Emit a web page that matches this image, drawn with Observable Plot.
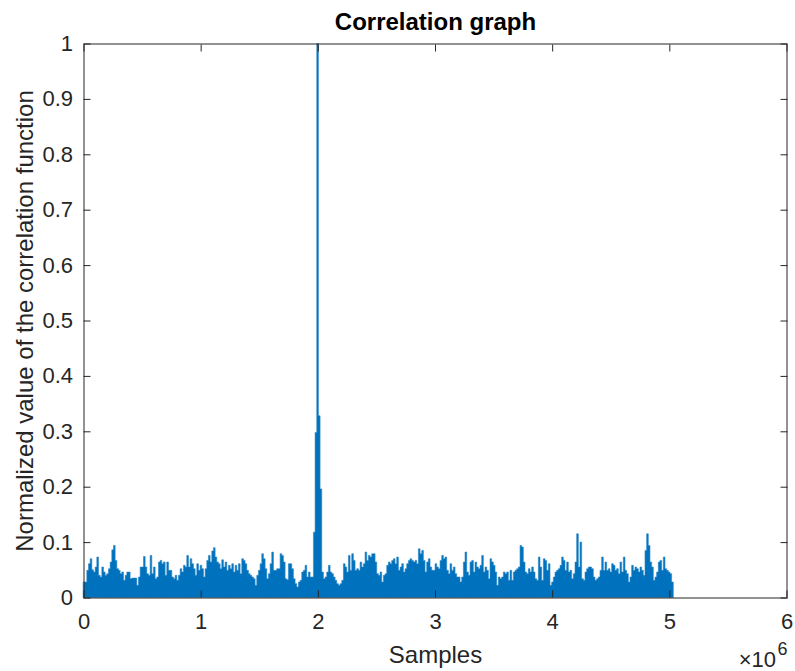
<!DOCTYPE html>
<html>
<head>
<meta charset="utf-8">
<script src="https://cdn.jsdelivr.net/npm/d3@7"></script>
<script src="https://cdn.jsdelivr.net/npm/@observablehq/plot@0.6"></script>
<style>
  html, body { margin: 0; padding: 0; background: #fff; }
  #chart { width: 795px; height: 671px; }
</style>
</head>
<body>
<div id="chart"></div>
<script>
// ---- Data ----
const titleText = "Correlation graph";
const xLabelText = "Samples";
const yLabelText = "Normalized value of the correlation function";
const exponentBase = "\u00d710";
const exponentPower = "6";

const xTicks = [0, 1e6, 2e6, 3e6, 4e6, 5e6, 6e6];
const xTickLabels = ["0", "1", "2", "3", "4", "5", "6"];
const yTicks = [0, 0.1, 0.2, 0.3, 0.4, 0.5, 0.6, 0.7, 0.8, 0.9, 1];
const yTickLabels = ["0", "0.1", "0.2", "0.3", "0.4", "0.5", "0.6", "0.7", "0.8", "0.9", "1"];

// samples covered by each envelope bin
const samplesPerBin = 14220;

// envelope of the normalized correlation, one value per bin
const corrValues = [
  0.028,0.028,0.049,0.061,0.070,0.050,0.046,0.055,0.073,0.040,
  0.037,0.055,0.046,0.040,0.043,0.052,0.064,0.086,0.094,0.067,
  0.052,0.049,0.043,0.046,0.031,0.040,0.046,0.046,0.034,0.035,
  0.035,0.035,0.022,0.037,0.055,0.055,0.074,0.055,0.043,0.040,
  0.076,0.043,0.055,0.034,0.037,0.064,0.067,0.061,0.064,0.040,
  0.064,0.049,0.049,0.037,0.034,0.040,0.031,0.040,0.052,0.046,
  0.058,0.055,0.076,0.055,0.070,0.061,0.052,0.040,0.061,0.049,
  0.058,0.052,0.037,0.052,0.067,0.076,0.064,0.084,0.090,0.073,
  0.064,0.061,0.052,0.068,0.055,0.064,0.049,0.058,0.052,0.061,
  0.046,0.058,0.049,0.061,0.043,0.070,0.067,0.061,0.049,0.043,
  0.040,0.037,0.034,0.022,0.040,0.049,0.061,0.079,0.070,0.052,
  0.034,0.043,0.061,0.082,0.049,0.049,0.052,0.052,
  0.079,0.076,0.064,0.034,0.032,0.061,0.061,0.052,0.034,0.025,
  0.019,0.028,0.031,0.046,0.049,0.058,0.037,0.046,0.037,0.037,
  0.118,0.298,1.000,0.328,0.196,0.046,0.034,0.037,0.046,0.058,
  0.046,0.043,0.037,0.031,0.025,0.022,0.025,0.031,0.061,0.055,
  0.046,0.076,0.049,0.079,0.067,0.049,0.052,0.049,0.064,0.055,
  0.061,0.082,0.067,0.076,0.073,0.079,0.079,0.064,0.043,0.040,
  0.046,0.028,0.040,0.043,0.058,0.064,0.061,0.067,0.070,0.061,
  0.073,0.049,0.055,0.061,0.046,0.052,0.061,0.067,0.070,0.067,
  0.064,0.067,0.061,0.088,0.079,0.085,0.067,0.046,0.064,0.070,
  0.055,0.049,0.049,0.061,0.055,0.052,0.067,0.076,0.070,0.073,
  0.049,0.043,0.061,0.049,0.055,0.043,0.037,0.037,0.028,0.037,
  0.064,0.082,0.046,0.040,
  0.064,0.067,0.046,0.064,0.055,0.052,0.058,0.076,0.046,0.055,
  0.049,0.034,0.070,0.064,0.058,0.046,0.022,0.037,0.034,0.037,
  0.046,0.043,0.046,0.031,0.049,0.031,0.046,0.049,0.052,0.055,
  0.094,0.091,0.064,0.046,0.043,0.052,0.046,0.055,0.046,0.034,
  0.031,0.073,0.055,0.031,0.070,0.067,0.049,0.061,0.022,0.028,
  0.037,0.046,0.049,0.052,0.058,0.073,0.067,0.049,0.064,0.046,
  0.049,0.034,0.043,0.064,0.115,0.055,0.100,0.034,0.031,0.046,
  0.052,0.055,0.055,0.052,0.037,0.031,0.034,0.037,0.049,0.073,
  0.049,0.064,0.049,0.052,0.046,0.061,0.058,0.049,0.052,0.043,
  0.064,0.046,0.073,0.049,0.043,0.028,0.037,0.058,0.049,0.055,
  0.052,0.046,0.055,0.049,0.040,0.085,0.115,0.094,0.064,0.055,
  0.031,0.037,0.046,0.064,0.067,0.049,0.073,0.052,0.049,0.046,
  0.043,0.028,0.022
];

const table = corrValues.map((v, i) => ({sample: i * samplesPerBin, value: v}));

const fontFamily = '"Liberation Sans", Arial, Helvetica, sans-serif';
const ink = "#262626";

const chart = Plot.plot({
  width: 795,
  height: 671,
  marginLeft: 83.5,
  marginRight: 8.5,
  marginTop: 43.5,
  marginBottom: 73.5,
  style: {fontFamily, fontSize: "22px", color: ink, background: "#fff", overflow: "visible"},
  x: {domain: [0, 6e6]},
  y: {domain: [0, 1]},
  marks: [
    Plot.areaY(table, {x: "sample", y: "value", curve: "step-after", fill: "#0072BD", stroke: "#2a86c8", strokeWidth: 0.6}),
    Plot.frame({stroke: ink, strokeWidth: 1}),
    // tick marks (inward, on all four sides)
    Plot.axisX(xTicks, {anchor: "bottom", tickSize: -7, tickFormat: () => "", stroke: ink, label: null}),
    Plot.axisX(xTicks, {anchor: "top", tickSize: -7, tickFormat: () => "", stroke: ink, label: null}),
    Plot.axisY(yTicks, {anchor: "left", tickSize: -7, tickFormat: () => "", stroke: ink, label: null}),
    Plot.axisY(yTicks, {anchor: "right", tickSize: -7, tickFormat: () => "", stroke: ink, label: null}),
    // tick labels
    Plot.axisX(xTicks, {anchor: "bottom", tickSize: 0, tickPadding: 15, fontSize: 22, fill: ink,
      tickFormat: d => xTickLabels[xTicks.indexOf(d)], label: null}),
    Plot.axisY(yTicks, {anchor: "left", tickSize: 0, tickPadding: 11, fontSize: 22, fill: ink,
      tickFormat: d => yTickLabels[yTicks.indexOf(d)], label: null}),
    // title and axis labels
    Plot.text([titleText], {text: d => d, frameAnchor: "top", dy: -14, lineAnchor: "bottom",
      fontSize: 24, fontWeight: "bold", fill: "#000"}),
    Plot.text([xLabelText], {text: d => d, frameAnchor: "bottom", dy: 64.5, lineAnchor: "bottom",
      fontSize: 24, fill: ink}),
    Plot.text([yLabelText], {text: d => d, frameAnchor: "left", dx: -51, rotate: -90, lineAnchor: "bottom",
      textAnchor: "middle", fontSize: 24, fill: ink}),
    // exponent marker
    Plot.text([exponentBase], {text: d => d, frameAnchor: "bottom-right", dx: -11, dy: 68.5, lineAnchor: "bottom",
      textAnchor: "end", fontSize: 22, fill: ink}),
    Plot.text([exponentPower], {text: d => d, frameAnchor: "bottom-right", dx: -9.5, dy: 56.5, lineAnchor: "bottom",
      textAnchor: "start", fontSize: 18, fill: ink})
  ]
});

document.getElementById("chart").appendChild(chart);
</script>
</body>
</html>
